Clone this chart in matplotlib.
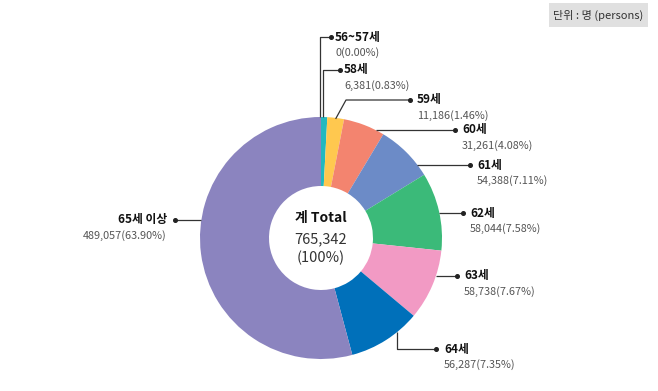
import numpy as np
import matplotlib
matplotlib.use("Agg")
import matplotlib.pyplot as plt

plt.rcParams['font.family'] = ['Noto Sans CJK KR', 'DejaVu Sans']

# 데이터
labels = ["56~57세", "58세", "59세", "60세", "61세", "62세", "63세", "64세", "65세 이상"]
values = [0, 6381, 11186, 31261, 54388, 58044, 58738, 56287, 489057]
percents = ["0.00%", "0.83%", "1.46%", "4.08%", "7.11%", "7.58%", "7.67%", "7.35%", "63.90%"]
# 원본 그림에서 읽은 조각 크기(도) - 그림은 수치 비율과 다르게 그려져 있음
drawn_deg = [0, 3, 8, 20, 27.5, 37.5, 34, 35, 195]
colors = ["#22B8C0", "#22B8C0", "#FFC84F", "#F3846F", "#6C8BC7", "#3BBA79",
          "#F29AC4", "#0070BA", "#8B84BF"]
total_label = "765,342"

fig = plt.figure(figsize=(6.58, 3.91), dpi=100)
ax = fig.add_axes([0, 0, 1, 1])

cx, cy, R, r_in = 321, 238, 121, 52
wedges, _ = ax.pie(drawn_deg, colors=colors, radius=R, center=(cx, cy),
                   startangle=-90, counterclock=True,
                   wedgeprops=dict(width=R - r_in, edgecolor="none"))
ax.set_xlim(0, 658)
ax.set_ylim(391, 0)
ax.set_aspect("equal")
ax.set_axis_off()

line_kw = dict(color="#333333", lw=0.9, solid_capstyle="butt")


def edge_x(y, side=1):
    return cx + side * np.sqrt(R ** 2 - (y - cy) ** 2)


def edge_y_at_x(x):
    return cy + np.sqrt(R ** 2 - (x - cx) ** 2)


def mid_point(w, rad=R):
    a = np.deg2rad((w.theta1 + w.theta2) / 2)
    return cx + rad * np.cos(a), cy + rad * np.sin(a)


def put_label(i, tx, ty, ha="left"):
    ax.text(tx, ty, labels[i], ha=ha, va="center", fontsize=8.5,
            fontweight="bold", color="#111111")
    ax.text(tx, ty + 16, f"{values[i]:,}({percents[i]})", ha=ha, va="center",
            fontsize=7.8, color="#555555")


def draw_path(xs, ys):
    ax.plot(xs, ys, **line_kw)
    ax.plot(xs[-1], ys[-1], "o", color="#222222", ms=2.6)


# 56~57세, 58세 : 위로 올라가는 선
for i, top, end in [(0, 37, 331), (1, 70, 340)]:
    x0, y0 = mid_point(wedges[i])
    draw_path([x0 - 1, x0 - 1, end], [y0, top, top])
    put_label(i, end + 4, top)

# 59세 : 사선
x0, y0 = mid_point(wedges[2], R - 1)
draw_path([x0, 346, 410], [y0, 100, 100])
put_label(2, 417, 100)

# 60~63세 : 수평선
for i, y, end in [(3, 130, 455), (4, 165, 470), (5, 213, 463), (6, 276, 457)]:
    draw_path([edge_x(y), end], [y, y])
    put_label(i, end + 7, y)

# 64세
xv = 397
draw_path([xv, xv, 436], [edge_y_at_x(xv), 349, 349])
put_label(7, 444, 349)

# 65세 이상
draw_path([edge_x(220, -1), 175], [220, 220])
put_label(8, 167, 220, ha="right")

# 가운데 합계
ax.text(cx, 218, "계 Total", ha="center", va="center", fontsize=10,
        fontweight="bold", color="#111111")
ax.text(cx, 239, total_label, ha="center", va="center", fontsize=10.5, color="#333333")
ax.text(cx, 258, "(100%)", ha="center", va="center", fontsize=10.5, color="#333333")

# 단위
ax.add_patch(plt.Rectangle((549, 3), 99, 24, facecolor="#E0E0E0", edgecolor="none"))
ax.text(598.5, 15, "단위 : 명 (persons)", ha="center", va="center",
        fontsize=8, color="#333333")

plt.savefig("out.png", dpi=100)
